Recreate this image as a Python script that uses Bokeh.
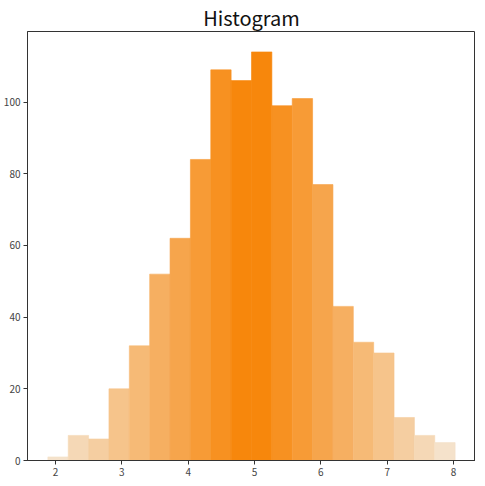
from bokeh.plotting import figure
from bokeh.models import ColumnDataSource, Range1d, FixedTicker
from bokeh.embed import file_html
from bokeh.resources import INLINE

# Data
bin_start = 1.884
bin_width = 0.307
counts = [1, 7, 6, 20, 32, 52, 62, 84, 109, 106, 114, 99, 101, 77, 43, 33, 30, 12, 7, 5]
x_ticks = [2, 3, 4, 5, 6, 7, 8]
y_ticks = [0, 20, 40, 60, 80, 100]

light_rgb = (245, 226, 203)
dark_rgb = (247, 135, 12)

n = len(counts)
left = [bin_start + i * bin_width for i in range(n)]
right = [bin_start + (i + 1) * bin_width for i in range(n)]
center = (n - 1) / 2.0
max_d = abs(0 - center) - 0.5


def shade(i):
    t = 1.0 - (abs(i - center) - 0.5) / max_d
    rgb = [round(l + (d - l) * t) for l, d in zip(light_rgb, dark_rgb)]
    return "#%02x%02x%02x" % tuple(rgb)


colors = [shade(i) for i in range(n)]

src = ColumnDataSource(dict(left=left, right=right, top=counts,
                            bottom=[0] * n, color=colors))

lo, hi = left[0], right[-1]
pad = (hi - lo) * 0.05
ymax = max(counts) * 1.05

p = figure(frame_width=448, frame_height=429, output_backend="svg", toolbar_location=None,
           title="Histogram",
           x_range=Range1d(lo - pad, hi + pad), y_range=Range1d(0, ymax),
           min_border_left=26, min_border_right=0, min_border_top=0, min_border_bottom=0)

p.quad(left="left", right="right", top="top", bottom="bottom", source=src,
       fill_color="color", line_color="color", line_width=0.6)

p.title.text_font = "Noto Sans CJK KR"
p.title.text_font_size = "20px"
p.title.text_font_style = "normal"
p.title.align = "center"
p.title.text_color = "#111111"
p.title.standoff = 0
p.title.offset = 0

p.xgrid.visible = False
p.ygrid.visible = False
p.outline_line_color = "#333333"
p.outline_line_width = 1

for ax in (p.xaxis[0], p.yaxis[0]):
    ax.axis_line_color = "#333333"
    ax.major_tick_line_color = "#333333"
    ax.major_tick_out = 4
    ax.major_tick_in = 0
    ax.minor_tick_line_color = None
    ax.major_label_text_font = "Noto Sans CJK KR"
    ax.major_label_text_font_size = "10px"
    ax.major_label_text_color = "#444444"
    ax.major_label_standoff = 3

p.xaxis[0].ticker = FixedTicker(ticks=x_ticks)
p.yaxis[0].ticker = FixedTicker(ticks=y_ticks)

open("out.html", "w").write(file_html(p, INLINE))
